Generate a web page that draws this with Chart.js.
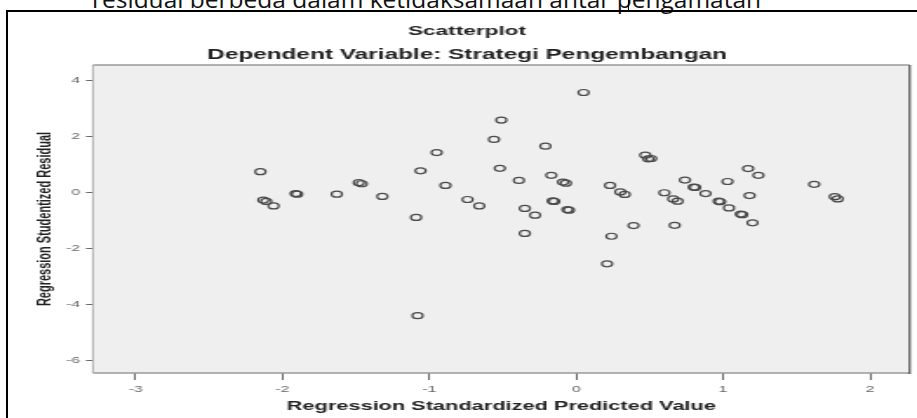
<!DOCTYPE html>
<html>
<head>
<meta charset="utf-8">
<script src="https://cdn.jsdelivr.net/npm/chart.js@4.4.1/dist/chart.umd.min.js"></script>
<style>
  html, body { margin: 0; padding: 0; background: #fff; overflow: hidden; }
  #wrap { position: relative; width: 917px; height: 418px; overflow: hidden; background: #fff; }
  #doc { position: absolute; left: 92px; top: -14px; font-family: "Open Sans", "Noto Sans", sans-serif; font-size: 24.5px; line-height: 25px; color: #111; white-space: nowrap; }
  #cursor { position: absolute; left: 628px; top: 0; width: 1px; height: 10px; background: #000; }
  #frame { position: absolute; left: 6px; top: 10px; width: 1000px; height: 500px; border-left: 2px solid #000; border-top: 2px solid #000; }
  #c { position: absolute; left: 0; top: 0; transform-origin: 0 0; transform: scaleX(1.74004); }
</style>
</head>
<body>
<div id="wrap">
  <div id="doc">residual berbeda dalam ketidaksamaan antar pengamatan</div>
  <div id="cursor"></div>
  <div id="frame"></div>
  <canvas id="c" width="527" height="418"></canvas>
</div>
<script>
const chartTitle = 'Scatterplot';
const chartSubtitle = 'Dependent Variable: Strategi Pengembangan';
const xAxisTitle = 'Regression Standardized Predicted Value';
const yAxisTitle = 'Regression Studentized Residual';

const xTicks = [-3, -2, -1, 0, 1, 2];
const yTicks = [-6, -4, -2, 0, 2, 4];

const predictedValues = [
  -2.15, -2.13, -2.11, -2.06, -1.91, -1.90, -1.63, -1.48, -1.46, -1.32,
  -1.06, -1.09, -1.08, -0.95, -0.89, -0.74, -0.66, -0.56, -0.52, -0.51,
  -0.39, -0.35, -0.35, -0.28, -0.21, -0.17, -0.16, -0.15, -0.09, -0.07,
  -0.06, -0.05, 0.05, 0.21, 0.23, 0.24, 0.30, 0.33, 0.39, 0.47,
  0.49, 0.51, 0.60, 0.66, 0.69, 0.67, 0.74, 0.80, 0.81, 0.88,
  0.97, 0.98, 1.03, 1.04, 1.12, 1.13, 1.17, 1.18, 1.20, 1.24,
  1.62, 1.76, 1.78
];
const studentizedResiduals = [
  0.74, -0.27, -0.32, -0.48, -0.04, -0.06, -0.06, 0.35, 0.31, -0.14,
  0.77, -0.89, -4.39, 1.42, 0.25, -0.25, -0.48, 1.89, 0.86, 2.58,
  0.43, -0.57, -1.46, -0.81, 1.65, 0.61, -0.30, -0.32, 0.37, 0.33,
  -0.61, -0.63, 3.56, -2.54, 0.25, -1.56, 0.02, -0.07, -1.18, 1.33,
  1.20, 1.21, -0.01, -0.23, -0.31, -1.17, 0.44, 0.19, 0.18, -0.04,
  -0.31, -0.33, 0.39, -0.55, -0.77, -0.79, 0.85, -0.11, -1.08, 0.61,
  0.29, -0.15, -0.23
];

const xMin = -3.29, xMax = 2.27;
const yMin = -6.43, yMax = 4.54;

const plotBg = {
  id: 'plotBg',
  beforeDatasetsDraw(chart) {
    const { ctx, chartArea: a } = chart;
    ctx.save();
    ctx.fillStyle = '#efefef';
    ctx.fillRect(a.left, a.top, a.right - a.left, a.bottom - a.top);
    ctx.strokeStyle = '#9a9a9a';
    ctx.lineWidth = 1.3;
    ctx.beginPath();
    ctx.moveTo(a.left, a.top); ctx.lineTo(a.right, a.top);
    ctx.moveTo(a.left, a.bottom); ctx.lineTo(a.right, a.bottom);
    ctx.stroke();
    ctx.lineWidth = 0.8;
    ctx.beginPath();
    ctx.moveTo(a.left, a.top); ctx.lineTo(a.left, a.bottom);
    ctx.stroke();
    ctx.strokeStyle = '#3a3a3a';
    ctx.lineWidth = 1.1;
    ctx.beginPath();
    ctx.moveTo(a.right, a.top); ctx.lineTo(a.right, a.bottom + 1);
    ctx.stroke();
    ctx.restore();
  }
};

const fam = '"Liberation Sans", Arial, sans-serif';
const tickFont = { family: fam, size: 9 };

new Chart(document.getElementById('c'), {
  type: 'scatter',
  data: {
    datasets: [{
      data: predictedValues.map((x, i) => ({ x: x, y: studentizedResiduals[i] })),
      pointStyle: 'circle',
      pointRadius: 3,
      pointHoverRadius: 3,
      borderWidth: 1.2,
      borderColor: '#4a4a4a',
      backgroundColor: 'rgba(0,0,0,0)'
    }]
  },
  options: {
    responsive: false,
    animation: false,
    devicePixelRatio: 1,
    layout: { padding: { left: 11.8, right: 2, top: 20, bottom: 0 } },
    plugins: {
      legend: { display: false },
      tooltip: { enabled: false },
      title: {
        display: true, text: chartTitle, color: '#222',
        font: { family: fam, size: 13, weight: 'bold' },
        padding: { top: 4, bottom: 3 }
      },
      subtitle: {
        display: true, text: chartSubtitle, color: '#222',
        font: { family: fam, size: 14, weight: 'bold' },
        padding: { top: 4, bottom: 1.6 }
      }
    },
    scales: {
      x: {
        type: 'linear', min: xMin, max: xMax,
        afterFit(s) { s.height = 45; },
        afterBuildTicks(s) { s.ticks = xTicks.map(v => ({ value: v })); },
        grid: { drawOnChartArea: false, drawTicks: true, tickLength: 7, color: '#666', lineWidth: 1 },
        border: { display: false },
        ticks: { color: '#666', font: tickFont, padding: 4, maxRotation: 0, autoSkip: false },
        title: {
          display: true, text: xAxisTitle, color: '#222',
          font: { family: fam, size: 12.5, weight: 'bold' },
          padding: { top: 0, bottom: 4 }
        }
      },
      y: {
        type: 'linear', min: yMin, max: yMax,
        afterFit(s) { s.width = 41.6; },
        afterBuildTicks(s) { s.ticks = yTicks.map(v => ({ value: v })); },
        grid: { drawOnChartArea: false, drawTicks: true, tickLength: 4, color: '#666', lineWidth: 1 },
        border: { display: false },
        ticks: { color: '#666', font: tickFont, padding: 3.4, autoSkip: false },
        title: {
          display: true, text: yAxisTitle, color: '#222',
          font: { family: fam, size: 11, weight: 'bold' },
          padding: { top: 7.5, bottom: 0 }
        }
      }
    }
  },
  plugins: [plotBg]
});
</script>
</body>
</html>
